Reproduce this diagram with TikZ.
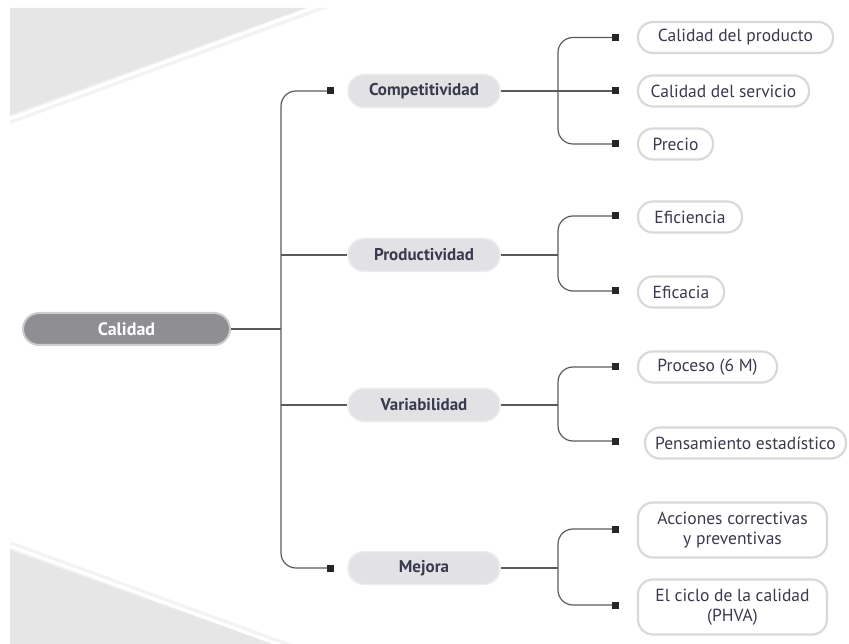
\documentclass[tikz,border=0pt]{standalone}
\usepackage{fontspec}
\setmainfont{PT Sans}
\usetikzlibrary{calc}
\definecolor{bgtri}{HTML}{E6E6E6}
\definecolor{bgshade}{HTML}{F3F3F3}
\definecolor{ink}{HTML}{3A3A4E}
\definecolor{wire}{HTML}{5A5A5A}
\definecolor{rootfill}{HTML}{8E8E93}
\definecolor{rootedge}{HTML}{CDCDD0}
\definecolor{midfill}{HTML}{E2E2E5}
\definecolor{midedge}{HTML}{EDEDEF}
\definecolor{leafedge}{HTML}{D9D9D9}
\tikzset{
  rootbox/.style={draw=rootedge, line width=2pt, fill=rootfill, rounded corners=16pt,
    minimum width=207pt, minimum height=32pt, text=white, font=\fontsize{18}{20}\selectfont\bfseries},
  midbox/.style={draw=midedge, line width=1.5pt, fill=midfill, rounded corners=16pt,
    minimum width=152pt, minimum height=33pt, text=ink, font=\fontsize{17}{19}\selectfont\bfseries},
  leafbox/.style={draw=leafedge, line width=2.2pt, fill=white, rounded corners=15pt,
    minimum height=31pt, inner xsep=0pt, text=ink, align=center,
    font=\fontsize{17.5}{19.5}\selectfont},
  tip/.style={fill=black!85, minimum size=7pt, inner sep=0pt, outer sep=0pt},
  wireline/.style={draw=wire, line width=1.2pt},
  elbow/.style={wireline, rounded corners=15pt},
}
\begin{document}
\begin{tikzpicture}[x=1pt,y=-1pt]
\useasboundingbox (0,0) rectangle (849,644);

% decorative corner wedges
\fill[bgshade] (10,8) -- (328,8) -- (10,124) -- cycle;
\fill[bgtri] (10,8) -- (305,8) -- (10,115) -- cycle;
\draw[white, line width=3pt] (10,119) -- (318,6);
\fill[bgshade] (10,541) -- (292,644) -- (10,644) -- cycle;
\fill[bgtri] (10,550) -- (272,644) -- (10,644) -- cycle;
\draw[white, line width=3pt] (10,546) -- (283,646);

% root
\node[rootbox] (cal) at (126.5,329) {Calidad};

% second level
\node[midbox] (comp) at (424,91) {Competitividad};
\node[midbox] (prod) at (424,255) {Productividad};
\node[midbox] (var) at (424,405) {Variabilidad};
\node[midbox] (mej) at (424,568) {Mejora};

\node[tip] (tcomp) at (330.5,91) {};
\node[tip] (tmej) at (330.5,568) {};
\coordinate (hub) at (281,329);

% third level
\node[leafbox, minimum width=195pt] (l1) at (735.5,37.5) {Calidad del producto};
\node[leafbox, minimum width=171pt] (l2) at (723.5,91) {Calidad del servicio};
\node[leafbox, minimum width=75pt] (l3) at (675.5,144) {Precio};
\node[leafbox, minimum width=104pt] (l4) at (690,217) {Eficiencia};
\node[leafbox, minimum width=86pt] (l5) at (681,292) {Eficacia};
\node[leafbox, minimum width=139pt] (l6) at (707.5,367) {Proceso (6 M)};
\node[leafbox, minimum width=201pt] (l7) at (745.5,443) {Pensamiento estadístico};
\node[leafbox, minimum width=189pt, minimum height=55pt] (l8) at (732.5,530) {Acciones correctivas\\y preventivas};
\node[leafbox, minimum width=189pt, minimum height=55pt] (l9) at (732.5,607) {El ciclo de la calidad\\(PHVA)};

\foreach \l/\y in {1/37.5,2/91,3/144,4/216,5/291,6/367,7/441,8/529,9/605}
  \node[tip] (t\l) at (615.5,\y) {};

% trunk
\draw[wireline] (cal.east) -- (hub);
\draw[elbow] (tcomp.west) -| (hub) |- (tmej.west);
\draw[wireline] (hub |- prod.west) -- (prod.west);
\draw[wireline] (hub |- var.west) -- (var.west);

% branches
\coordinate (bx) at (558,0);
\draw[wireline] (comp.east) -- (t2.west);
\draw[elbow] (t1.west) -| (bx |- comp.east) |- (t3.west);

\draw[wireline] (prod.east) -- (bx |- prod.east);
\draw[elbow] (t4.west) -| (bx |- prod.east) |- (t5.west);

\draw[wireline] (var.east) -- (bx |- var.east);
\draw[elbow] (t6.west) -| (bx |- var.east) |- (t7.west);

\draw[wireline] (mej.east) -- (bx |- mej.east);
\draw[elbow] (t8.west) -| (bx |- mej.east) |- (t9.west);
\end{tikzpicture}
\end{document}
